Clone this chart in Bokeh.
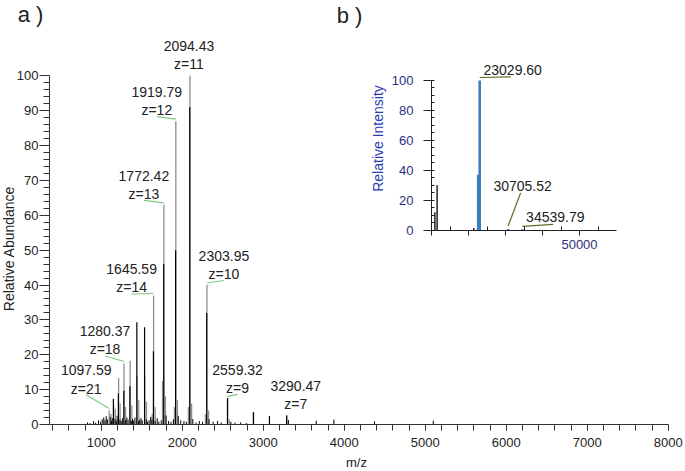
import math
from bokeh.plotting import figure
from bokeh.models import Range1d, FixedTicker, Label
from bokeh.layouts import column
from bokeh.embed import file_html
from bokeh.resources import INLINE
from bokeh.core.properties import value

# ---------------- data : panel a (charge-state envelope) ----------------
gray_mz = [1097.59, 1152.6, 1213.2, 1280.37, 1355.6, 1440.4, 1536.3, 1645.59,
           1772.42, 1919.79, 2094.43, 2303.95, 2559.32, 2879.6, 3290.47]
gray_int = [4.0, 5.5, 13.3, 17.5, 18.3, 14.0, 14.0, 37.0,
            63.0, 87.0, 100.0, 40.0, 7.5, 3.5, 2.6]

black_mz = [1149.0, 1211.0, 1278.5, 1353.0, 1438.5, 1534.0, 1643.5, 1770.5,
            1917.5, 2092.0, 2301.5, 2558.0, 2878.0, 3076.0, 3288.0]
black_int = [7.4, 8.9, 9.7, 11.0, 29.3, 27.9, 21.0, 46.0,
             50.0, 91.0, 32.0, 7.5, 3.5, 2.4, 2.6]

sat_mz = [1120, 1172, 1232, 1300, 1377, 1462, 1558, 1628, 1665, 1755,
          1792, 1902, 1940, 2075, 2115, 2285, 2325, 2580]
sat_int = [3.0, 4.5, 6.0, 5.0, 5.5, 7.0, 6.5, 3.0, 5.0, 12.5,
           8.0, 5.0, 7.0, 5.0, 6.0, 3.0, 4.0, 1.5]

noise_mz = [830, 860, 905, 930, 965, 990, 1010, 1030, 1045, 1060, 1075, 1110,
            1125, 1135, 1170, 1185, 1195, 1230, 1245, 1260, 1300, 1315, 1330,
            1370, 1385, 1400, 1415, 1460, 1475, 1490, 1505, 1555, 1570, 1590,
            1610, 1625, 1665, 1690, 1710, 1740, 1800, 1830, 1860, 1890, 1950,
            1980, 2020, 2050, 2130, 2170, 2210, 2250, 2330, 2380, 2436, 2480,
            2600, 2650, 2720, 2790, 3310, 3654, 3872, 4374, 5099]
noise_int = [0.6, 0.4, 1.0, 0.5, 1.2, 0.8, 1.5, 2.0, 1.2, 2.4, 1.5, 2.2,
             1.0, 1.8, 1.6, 1.0, 2.5, 1.4, 1.0, 1.8, 1.2, 2.0, 1.4,
             1.0, 1.6, 1.2, 2.0, 1.0, 1.4, 1.8, 1.2, 1.5, 0.8, 1.2,
             2.2, 1.4, 1.0, 1.8, 0.8, 1.2, 2.6, 1.0, 0.8, 1.5, 2.5,
             1.2, 1.0, 0.8, 1.6, 0.6, 1.0, 0.8, 1.5, 0.8, 1.0, 0.6,
             0.8, 0.5, 0.6, 0.4, 1.3, 1.1, 1.4, 0.9, 1.1]

lab_mz = [2094.43, 1919.79, 1772.42, 1645.59, 2303.95, 1280.37, 1097.59, 2559.32, 3290.47]
lab_z = [11, 12, 13, 14, 10, 18, 21, 9, 7]

x_bounds = (360, 8000)
y_bounds = (0, 100)
x_major = [1000, 2000, 3000, 4000, 5000, 6000, 7000, 8000]
x_minor = list(range(400, 8001, 200))
y_major = list(range(0, 101, 10))
y_minor = list(range(0, 101, 2))

# ---------------- data : panel b (deconvoluted) ----------------
b_black_mz = [10920, 11514, 21430]
b_black_int = [12.0, 30.0, 1.5]
b_blue_mz = [22620, 23029.60, 30705.52, 34539.79]
b_blue_int = [37.0, 100.0, 0.8, 0.6]
b_lab_mz = [23029.60, 30705.52, 34539.79]
b_x_bounds = (10000, 60000)
b_y_bounds = (0, 100)
b_x_major = [10000, 20000, 30000, 40000, 50000]
b_x_minor = [15000, 25000, 35000, 45000, 55000]
b_y_major = [0, 20, 40, 60, 80, 100]
b_y_minor = list(range(0, 101, 5))

# ---------------- styles ----------------
FONT = "Liberation Sans"
TXT = "#222222"
AX = "#333333"
GRAY = "#8e8e8e"
LEAD_A = "#80c880"
LEAD_B = "#5b6e2e"
BLUE = "#3d7dbf"
NAVY = "#2e2e80"
YBLUE = "#2a3cb0"

lab_dx = [-1, -19, -20, -22, 17, -19, -23, 10, 9]
lab_dyz = [-12, -11, -11, -8, -11, -14, -22, -10.5, -11]
lab_lead = [False, True, True, True, True, True, True, True, False]
LINE_GAP = 18.3

# main figure: frame fills the whole canvas, axes drawn at fixed locations
W, H = 685, 471
AXL_PX, XEND_PX = 49, 667.7    # canvas x of y-axis line and of x = 8000
AXB_PX, YTOP_PX = 424, 75.3    # canvas y (from top) of y = 0 and y = 100
sx = (XEND_PX - AXL_PX) / (x_bounds[1] - x_bounds[0])
sy = (AXB_PX - YTOP_PX) / (y_bounds[1] - y_bounds[0])
XR = (x_bounds[0] - AXL_PX / sx, x_bounds[1] + (W - XEND_PX) / sx)
YR = (y_bounds[0] - (H - AXB_PX) / sy, y_bounds[1] + YTOP_PX / sy)

p = figure(width=W, height=H, x_range=Range1d(*XR), y_range=Range1d(*YR),
           output_backend="svg", toolbar_location=None,
           min_border_left=0, min_border_right=0, min_border_top=0,
           min_border_bottom=0)
p.grid.visible = False
p.outline_line_color = None

p.segment(x0=gray_mz, y0=0, x1=gray_mz, y1=gray_int, line_color=GRAY, line_width=1.3)
p.segment(x0=sat_mz, y0=0, x1=sat_mz, y1=sat_int, line_color=GRAY, line_width=1.2)
p.segment(x0=noise_mz, y0=0, x1=noise_mz, y1=noise_int, line_color="black", line_width=1.0)
p.segment(x0=black_mz, y0=0, x1=black_mz, y1=black_int, line_color="black", line_width=1.2)

peak_h = dict(zip(gray_mz, gray_int))
tx, tyz, tym, mz_txt, z_txt = [], [], [], [], []
lx0, ly0, lx1, ly1 = [], [], [], []
for mz, z, dx, dyz, lead in zip(lab_mz, lab_z, lab_dx, lab_dyz, lab_lead):
    v = peak_h[mz]
    x = mz + dx / sx
    yz = v - dyz / sy
    tx.append(x)
    tyz.append(yz)
    tym.append(yz + LINE_GAP / sy)
    mz_txt.append(f"{mz:.2f}")
    z_txt.append(f"z={z}")
    if lead:
        lx0.append(x); ly0.append(yz - 6.5 / sy)
        lx1.append(mz); ly1.append(v + 2 / sy)

p.segment(x0=lx0, y0=ly0, x1=lx1, y1=ly1, line_color=LEAD_A, line_width=1.2)
for ys, ts in ((tym, mz_txt), (tyz, z_txt)):
    p.text(x=tx, y=ys, text=ts, text_font=value(FONT), text_font_size="14px",
           text_color=TXT, text_align="center", text_baseline="middle")

xa = p.xaxis[0]
xa.ticker = FixedTicker(ticks=x_major, minor_ticks=x_minor)
xa.bounds = x_bounds
xa.fixed_location = y_bounds[0]
ya = p.yaxis[0]
ya.ticker = FixedTicker(ticks=y_major, minor_ticks=y_minor)
ya.bounds = y_bounds
ya.fixed_location = x_bounds[0]
for ax in (xa, ya):
    ax.axis_line_color = AX
    ax.major_tick_line_color = AX
    ax.minor_tick_line_color = AX
    ax.major_tick_in = 0
    ax.minor_tick_in = 0
    ax.major_label_text_font = FONT
    ax.major_label_text_font_size = "13px"
    ax.major_label_text_color = TXT
xa.major_tick_out = 6
xa.minor_tick_out = 6
xa.major_label_standoff = 7
ya.major_tick_out = 10
ya.minor_tick_out = 6
ya.major_label_standoff = 1

def lab(fig, text, x, y, size, color=TXT, angle=0, baseline="middle"):
    fig.add_layout(Label(x=x, y=y, x_units="screen", y_units="screen", text=text,
                         text_font=FONT, text_font_size=size, text_color=color,
                         angle=angle, text_align="center", text_baseline=baseline))

lab(p, "Relative Abundance", 8, H - 248, "14px", angle=math.pi / 2)
lab(p, "m/z", 356, H - 462, "13px")
lab(p, "a )", 30, H - 1, "22px", baseline="top")
lab(p, "b )", 349, H - 2, "22px", baseline="top")

# ---------------- inset (panel b) ----------------
IW, IH = 260, 198
IAXL, IXEND = 63, 248          # canvas x of y-axis and of x = 60000
IAXB, IYTOP = 171.7, 22        # canvas y of y = 0 and y = 100
isx = (IXEND - IAXL) / (b_x_bounds[1] - b_x_bounds[0])
isy = (IAXB - IYTOP) / (b_y_bounds[1] - b_y_bounds[0])
IXR = (b_x_bounds[0] - IAXL / isx, b_x_bounds[1] + (IW - IXEND) / isx)
IYR = (b_y_bounds[0] - (IH - IAXB) / isy, b_y_bounds[1] + IYTOP / isy)

ins = figure(width=IW, height=IH, x_range=Range1d(*IXR), y_range=Range1d(*IYR),
             output_backend="svg", toolbar_location=None,
             min_border_left=0, min_border_right=0, min_border_top=0,
             min_border_bottom=0, background_fill_alpha=0, border_fill_alpha=0)
ins.styles = {"position": "absolute", "left": "368px", "top": "58px"}
ins.grid.visible = False
ins.outline_line_color = None

ins.segment(x0=b_black_mz, y0=0, x1=b_black_mz, y1=b_black_int, line_color="black", line_width=1.3)
ins.segment(x0=b_blue_mz, y0=0, x1=b_blue_mz, y1=b_blue_int, line_color=BLUE, line_width=2.6)

b_h = dict(zip(b_blue_mz, b_blue_int))
b_dx = [33, 14.5, 33]
b_dy = [-10.7, -43, -12]
btx, bty, btxt = [], [], []
bl0x, bl0y, bl1x, bl1y = [], [], [], []
for mz, dx, dy in zip(b_lab_mz, b_dx, b_dy):
    v = b_h[mz]
    x = mz + dx / isx
    y = v - dy / isy
    btx.append(x); bty.append(y); btxt.append(f"{mz:.2f}")
    bl0x.append(mz); bl0y.append(v + 3 / isy)
    bl1x.append(x - 2 / isx); bl1y.append(y - 7 / isy)
ins.segment(x0=bl0x, y0=bl0y, x1=bl1x, y1=bl1y, line_color=LEAD_B, line_width=1.2)
ins.text(x=btx, y=bty, text=btxt, text_font=value(FONT), text_font_size="14px",
         text_color=TXT, text_align="center", text_baseline="middle")

ixa = ins.xaxis[0]
ixa.ticker = FixedTicker(ticks=b_x_major, minor_ticks=b_x_minor)
ixa.major_label_overrides = {t: "" for t in b_x_major if t != 50000}
ixa.bounds = b_x_bounds
ixa.fixed_location = b_y_bounds[0]
iya = ins.yaxis[0]
iya.ticker = FixedTicker(ticks=b_y_major, minor_ticks=b_y_minor)
iya.bounds = b_y_bounds
iya.fixed_location = b_x_bounds[0]
for ax in (ixa, iya):
    ax.axis_line_color = "#222222"
    ax.major_tick_line_color = "#222222"
    ax.minor_tick_line_color = "#222222"
    ax.major_tick_in = 0
    ax.minor_tick_out = 0
    ax.major_label_text_font = FONT
    ax.major_label_text_font_size = "13px"
    ax.major_label_text_color = NAVY
ixa.major_tick_out = 5
ixa.minor_tick_in = 4
ixa.major_label_standoff = 5
iya.major_tick_out = 8
iya.minor_tick_in = 3
iya.major_label_standoff = 10

lab(ins, "Relative Intensity", 9.5, IH - 80, "14px", color=YBLUE, angle=math.pi / 2)

layout = column(p, ins)

open("out.html", "w").write(file_html(layout, INLINE))
